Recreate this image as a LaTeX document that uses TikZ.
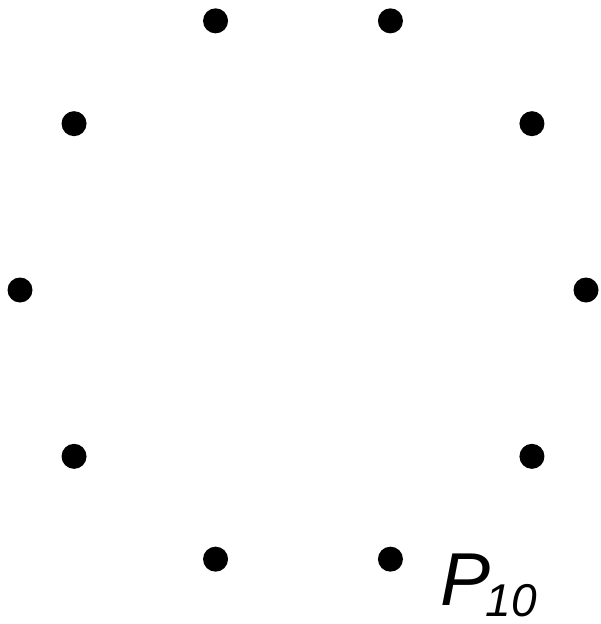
\documentclass[tikz,border=0pt]{standalone}
\usepackage{fontspec}
\setmainfont{Liberation Sans}
\begin{document}
\begin{tikzpicture}[x=1pt,y=-1pt,
  dot/.style={circle,fill=black,inner sep=0pt,minimum size=25pt}]
\useasboundingbox (0,0) rectangle (600,624);
\foreach \i in {0,...,9}{
  \node[dot] (p\i) at ({303+283*cos(36*\i)},{290-283*sin(36*\i)}) {};
}
\node[anchor=base west,inner sep=0pt,font=\fontsize{75}{75}\selectfont\itshape] (P) at (440,605) {P};
\node[anchor=base west,inner sep=0pt,font=\fontsize{46}{46}\selectfont\itshape] (sub) at (P.base east) [yshift=-11pt,xshift=-5pt] {10};
\end{tikzpicture}
\end{document}
